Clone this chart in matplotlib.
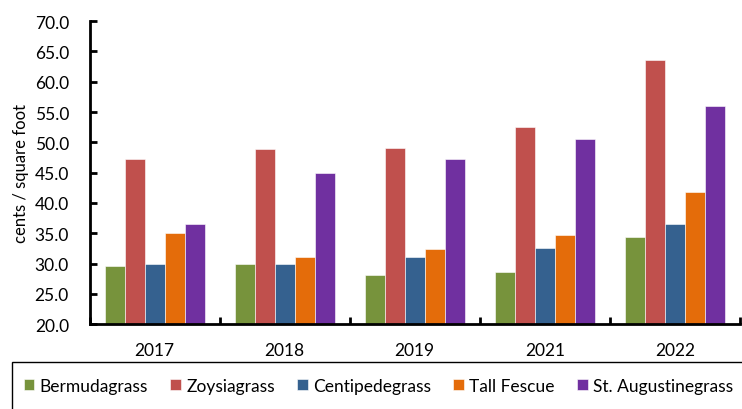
import numpy as np
import matplotlib.pyplot as plt
from matplotlib.patches import Rectangle

plt.rcParams['font.family'] = ['Lato', 'Liberation Sans', 'DejaVu Sans']

years = ["2017", "2018", "2019", "2021", "2022"]
bermuda = [29.6, 29.9, 28.1, 28.6, 34.3]
zoysia = [47.2, 48.9, 49.0, 52.5, 63.6]
centipede = [30.0, 30.0, 31.1, 32.5, 36.5]
fescue = [35.1, 31.1, 32.4, 34.7, 41.8]
augustine = [36.5, 45.0, 47.2, 50.6, 56.0]

names = ["Bermudagrass", "Zoysiagrass", "Centipedegrass", "Tall Fescue", "St. Augustinegrass"]
colors = ["#77933C", "#C0504D", "#35618F", "#E46C0A", "#7030A0"]
series = [bermuda, zoysia, centipede, fescue, augustine]

fig = plt.figure(figsize=(7.42, 4.10), dpi=100)
ax = fig.add_axes([0.121, 0.207, 0.876, 0.739])

x = np.arange(len(years))
w = 0.154
for i, (vals, c, n) in enumerate(zip(series, colors, names)):
    ax.bar(x + (i - 2) * w, np.array(vals) - 20, bottom=20, width=w, color=c,
           edgecolor='white', linewidth=0.4, label=n)

ax.set_xlim(-0.5, len(years) - 0.5)
ax.set_ylim(20, 70)
ax.set_yticks(np.arange(20, 71, 5))
ax.set_yticklabels([f"{v:.1f}" for v in np.arange(20, 71, 5)], fontsize=12.5)
ax.set_xticks(x)
ax.set_xticklabels(years, fontsize=12.5)
ax.set_xticks(np.arange(-0.5, len(years)), minor=True)
ax.tick_params(axis='x', which='major', length=0, pad=13)
ax.tick_params(axis='x', which='minor', direction='in', length=5, width=2)
ax.tick_params(axis='y', direction='in', length=5, width=2, pad=15)
ax.set_ylabel("cents / square foot", fontsize=12, labelpad=4)

for s in ['top', 'right']:
    ax.spines[s].set_visible(False)
for s in ['left', 'bottom']:
    ax.spines[s].set_linewidth(2)

fig.patches.append(Rectangle((12 / 742, -0.05), 1.0, (410 - 363) / 410 + 0.05,
                             transform=fig.transFigure, fill=False,
                             edgecolor='black', linewidth=1))

fig.legend(loc='center', bbox_to_anchor=(0.51, 1 - 387 / 410), ncol=5,
           frameon=False, fontsize=12.5, handlelength=0.6, handleheight=0.6,
           handletextpad=0.3, columnspacing=1.3)

fig.savefig("out.png", dpi=100)
